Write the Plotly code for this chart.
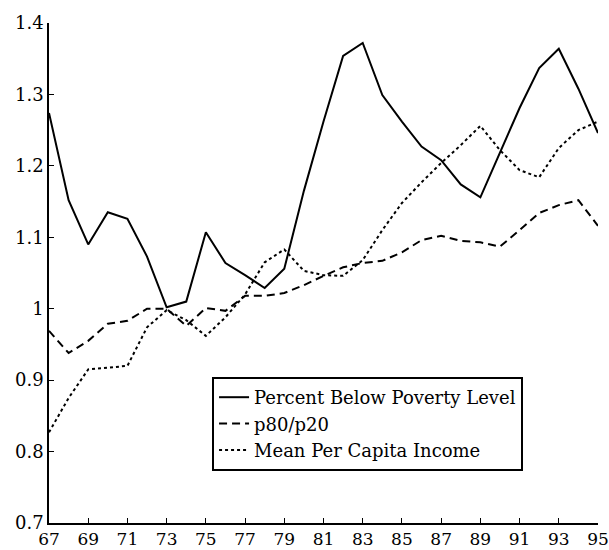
import plotly.graph_objects as go

years = list(range(67, 96))

poverty = [1.274, 1.152, 1.090, 1.135, 1.126, 1.073, 1.002, 1.010, 1.107, 1.064,
           1.047, 1.029, 1.056, 1.165, 1.262, 1.354, 1.372, 1.299, 1.262, 1.227,
           1.208, 1.174, 1.156, 1.219, 1.281, 1.337, 1.364, 1.308, 1.246]

p80_p20 = [0.969, 0.938, 0.955, 0.979, 0.983, 1.000, 1.000, 0.976, 1.001, 0.997,
           1.018, 1.018, 1.022, 1.033, 1.046, 1.058, 1.064, 1.067, 1.079, 1.096,
           1.102, 1.095, 1.093, 1.087, 1.110, 1.134, 1.145, 1.152, 1.116]

mean_income = [0.827, 0.875, 0.915, 0.918, 0.920, 0.974, 0.998, 0.984, 0.962, 0.988,
               1.020, 1.065, 1.083, 1.053, 1.047, 1.046, 1.068, 1.110, 1.148, 1.177,
               1.204, 1.229, 1.256, 1.222, 1.194, 1.184, 1.225, 1.250, 1.262]

x_ticks = list(range(67, 96, 2))
y_ticks = [0.7, 0.8, 0.9, 1.0, 1.1, 1.2, 1.3, 1.4]
y_tick_labels = ["0.7", "0.8", "0.9", "1", "1.1", "1.2", "1.3", "1.4"]

FONT = "DejaVu Serif"

fig = go.Figure()
fig.add_trace(go.Scatter(x=years, y=poverty, mode="lines",
                         name="Percent Below Poverty Level",
                         line=dict(color="black", width=2, dash="solid")))
fig.add_trace(go.Scatter(x=years, y=p80_p20, mode="lines",
                         name="p80/p20",
                         line=dict(color="black", width=2, dash="8px,5px")))
fig.add_trace(go.Scatter(x=years, y=mean_income, mode="lines",
                         name="Mean Per Capita Income",
                         line=dict(color="black", width=2, dash="3px,3px")))

fig.update_layout(
    width=609, height=550,
    margin=dict(l=49, r=11, t=23, b=27),
    paper_bgcolor="white", plot_bgcolor="white",
    font=dict(family=FONT, color="black", size=18),
    showlegend=True,
    legend=dict(x=0.297, y=0.292, xanchor="left", yanchor="top",
                bgcolor="white", bordercolor="black", borderwidth=2,
                font=dict(family=FONT, size=18, color="black"),
                tracegroupgap=0, itemwidth=30),
)
fig.update_xaxes(range=[67, 95], tickvals=x_ticks, ticktext=[str(v) for v in x_ticks],
                 showgrid=False, zeroline=False, showline=True, linecolor="black",
                 linewidth=1.5, ticks="inside", ticklen=5, tickcolor="black",
                 tickfont=dict(family=FONT, size=17), automargin=False)
fig.update_yaxes(range=[0.7, 1.4], tickvals=y_ticks, ticktext=y_tick_labels,
                 showgrid=False, zeroline=False, showline=True, linecolor="black",
                 linewidth=1.5, ticks="inside", ticklen=5, tickcolor="black",
                 tickfont=dict(family=FONT, size=18), automargin=False)

fig.write_html("out.html", config={"displayModeBar": False},
               post_script="document.body.style.margin='0px';")
